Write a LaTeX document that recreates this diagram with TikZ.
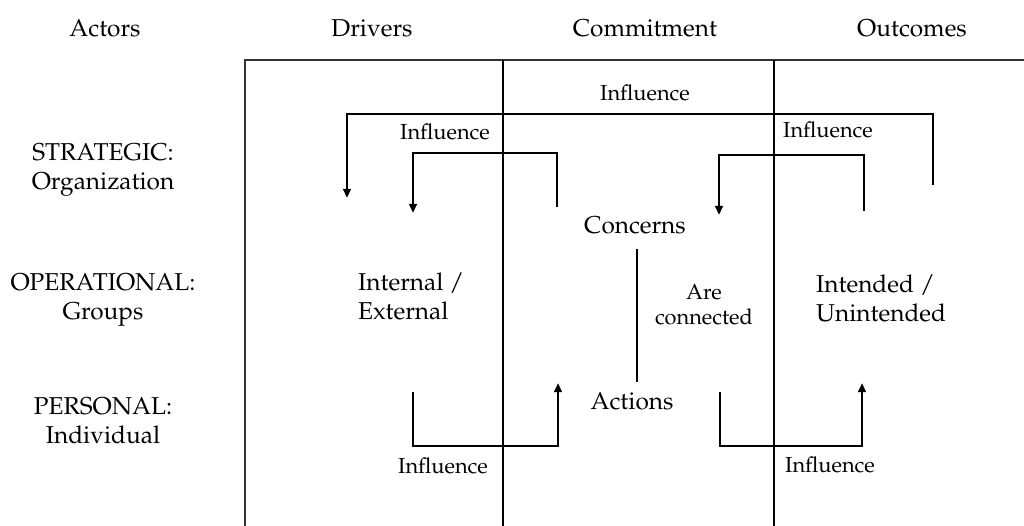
\documentclass[tikz,border=0pt]{standalone}
\usepackage[T1]{fontenc}
\usepackage{mathpazo}
\usetikzlibrary{positioning, arrows.meta}
\tikzset{
  bigtext/.style={
    font=\fontsize{24.4}{29}\selectfont,
    inner sep=0pt,
    align=center
  },
  smalltext/.style={
    font=\fontsize{21.8}{25}\selectfont,
    inner sep=0pt,
    align=center
  },
  frame/.style={
    draw=black!80,
    line width=1.1pt
  },
  divider/.style={
    line width=1.6pt
  },
  flow/.style={
    line width=2.6pt,
    -{Triangle[length=9pt,width=7.5pt]}
  },
  bracket/.style={
    line width=2.6pt
  }
}

\begin{document}
\begin{tikzpicture}[x=1pt, y=-1pt]
        \useasboundingbox (0,0) rectangle (1024,526);

        % column and row headings
        \node[bigtext] (actors) at (105,28) {Actors};
        \node[bigtext] (drivers) at (372,28) {Drivers};
        \node[bigtext] (commit) at (645,28) {Commitment};
        \node[bigtext] (outcomes) at (912,28) {Outcomes};
        \node[bigtext] (strat) at (103,170) {STRATEGIC:\\Organization};
        \node[bigtext] (oper) at (103,300) {OPERATIONAL:\\Groups};
        \node[bigtext] (pers) at (103,421) {PERSONAL:\\Individual};

        % frame
        \draw[frame] (245,526) -- (245,60) -- (1024,60);
        \draw[divider] (503,60) -- (503,526);
        \draw[divider] (774,60) -- (774,526);

        % cells
        \node[bigtext, align=left, anchor=west] (intext) at (358,296) {Internal /\\External};
        \node[bigtext, align=left, anchor=west] (intend) at (816,298) {Intended /\\Unintended};
        \node[bigtext] (concerns) at (635,225) {Concerns};
        \node[bigtext] (actions) at (632,401) {Actions};
        \node[smalltext] (areconn) at (704,305) {Are\\connected};

        \coordinate (cTop) at (637,249);
        \coordinate (cBot) at (637,382);
        \draw[bracket] (cTop) -- (cBot);

        % influence arrows
        \node[smalltext] (inflTop) at (645,93) {Influence};
        \node[smalltext] (inflL) at (445,132) {Influence};
        \node[smalltext] (inflR) at (828,130) {Influence};
        \node[smalltext] (inflBL) at (443,466) {Influence};
        \node[smalltext] (inflBR) at (830,465) {Influence};

        \coordinate (outS) at (933,185);
        \coordinate (outE) at (347,198);
        \coordinate (drvS) at (557,207);
        \coordinate (drvE) at (413,213);
        \coordinate (outcS) at (864,211);
        \coordinate (outcE) at (719,215);
        \coordinate (botLS) at (413,392);
        \coordinate (botLE) at (558,383);
        \coordinate (botRS) at (720,392);
        \coordinate (botRE) at (862,383);

        \draw[flow] (outS) -- ++(0,-71) -| (outE);
        \draw[flow] (drvS) -- ++(0,-54) -| (drvE);
        \draw[flow] (outcS) -- ++(0,-56) -| (outcE);
        \draw[flow] (botLS) -- ++(0,54) -| (botLE);
        \draw[flow] (botRS) -- ++(0,54) -| (botRE);
      \end{tikzpicture}
\end{document}
